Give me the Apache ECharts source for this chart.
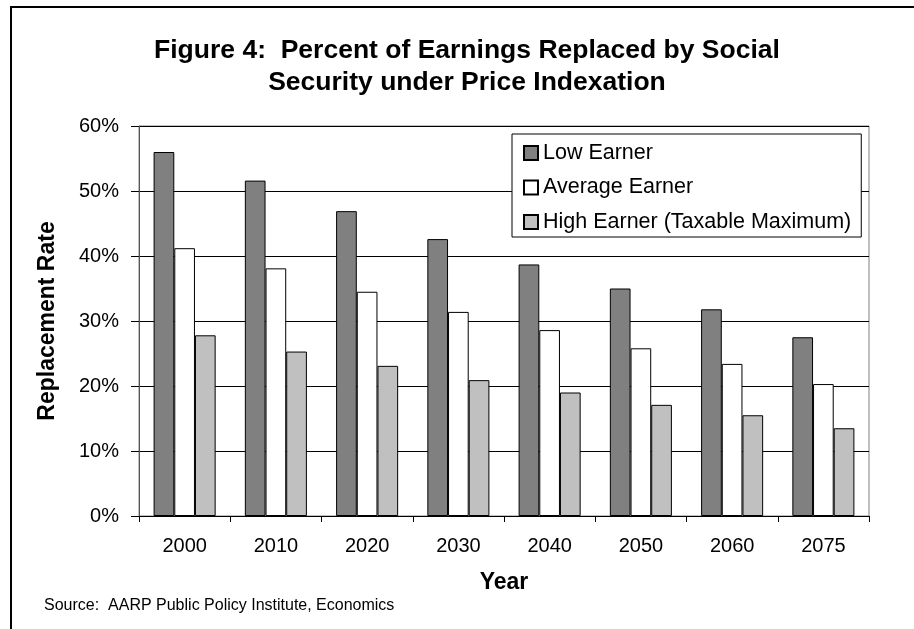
<!DOCTYPE html>
<html>
<head>
<meta charset="utf-8">
<script src="https://cdn.jsdelivr.net/npm/echarts@6/dist/echarts.min.js"></script>
<style>
  html, body { margin: 0; padding: 0; background: #fff; }
  #chart { width: 914px; height: 629px; }
</style>
</head>
<body>
<div id="chart"></div>
<script>
var categories = ['2000', '2010', '2020', '2030', '2040', '2050', '2060', '2075'];
var lowEarner = [56.0, 51.6, 46.9, 42.6, 38.7, 35.0, 31.8, 27.5];
var averageEarner = [41.2, 38.1, 34.5, 31.4, 28.6, 25.8, 23.4, 20.3];
var highEarner = [27.8, 25.3, 23.1, 20.9, 19.0, 17.1, 15.5, 13.5];
var seriesNames = ['Low Earner', 'Average Earner', 'High Earner (Taxable Maximum)'];
var yTicks = { min: 0, max: 60, interval: 10 };

var FONT = '"Liberation Sans", Arial, sans-serif';

var chart = echarts.init(document.getElementById('chart'), null, { renderer: 'canvas' });

function barSeries(name, data, color) {
  return {
    name: name,
    type: 'bar',
    data: data,
    barGap: '0%',
    barCategoryGap: '32%',
    itemStyle: { color: color, borderColor: '#000', borderWidth: 1 },
    emphasis: { disabled: true },
    animation: false
  };
}

chart.setOption({
  backgroundColor: '#fff',
  animation: false,
  title: {
    text: 'Figure 4:  Percent of Earnings Replaced by Social\nSecurity under Price Indexation',
    left: 462,
    top: 30,
    textAlign: 'center',
    textStyle: { fontFamily: FONT, fontSize: 26.5, fontWeight: 'bold', color: '#000', lineHeight: 32 }
  },
  legend: {
    data: seriesNames,
    orient: 'vertical',
    left: 512,
    top: 134,
    padding: [8, 10, 4, 11],
    itemGap: 12.5,
    itemWidth: 14,
    itemHeight: 14,
    icon: 'rect',
    selectedMode: false,
    backgroundColor: '#fff',
    borderColor: '#000',
    borderWidth: 1,
    textStyle: { fontFamily: FONT, fontSize: 21.5, color: '#000', lineHeight: 21 }
  },
  grid: {
    left: 139,
    top: 126,
    right: 45,
    bottom: 113,
    show: true,
    borderColor: '#808080',
    borderWidth: 1,
    backgroundColor: 'transparent'
  },
  xAxis: {
    type: 'category',
    data: categories,
    name: 'Year',
    nameLocation: 'middle',
    nameGap: 55,
    nameTextStyle: { fontFamily: FONT, fontSize: 23, fontWeight: 'bold', color: '#000' },
    axisLine: { lineStyle: { color: '#000', width: 1 } },
    axisTick: { show: true, length: 6, alignWithLabel: false, lineStyle: { color: '#000' } },
    axisLabel: { fontFamily: FONT, fontSize: 20, color: '#000', margin: 20 },
    splitLine: { show: false }
  },
  yAxis: {
    type: 'value',
    min: yTicks.min,
    max: yTicks.max,
    interval: yTicks.interval,
    name: 'Replacement Rate',
    nameLocation: 'middle',
    nameGap: 80,
    nameRotate: 90,
    nameTextStyle: { fontFamily: FONT, fontSize: 23, fontWeight: 'bold', color: '#000' },
    axisLine: { show: true, lineStyle: { color: '#555', width: 1 } },
    axisTick: { show: true, length: 8, inside: false, lineStyle: { color: '#000' } },
    axisLabel: { fontFamily: FONT, fontSize: 20, color: '#000', margin: 20, formatter: '{value}%' },
    splitLine: { show: true, lineStyle: { color: '#000', width: 1 } }
  },
  series: [
    barSeries(seriesNames[0], lowEarner, '#808080'),
    barSeries(seriesNames[1], averageEarner, '#ffffff'),
    barSeries(seriesNames[2], highEarner, '#c0c0c0')
  ],
  graphic: [
    {
      type: 'rect',
      silent: true,
      shape: { x: 11, y: 7, width: 1200, height: 1200 },
      style: { fill: 'none', stroke: '#000', lineWidth: 2 },
      z: 100
    },
    {
      type: 'text',
      silent: true,
      left: 44,
      top: 598,
      style: {
        text: 'Source:  AARP Public Policy Institute, Economics',
        font: '16px ' + FONT,
        fill: '#000'
      }
    }
  ]
});
</script>
</body>
</html>
